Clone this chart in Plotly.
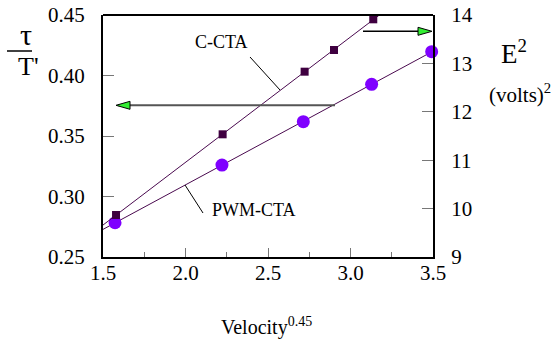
import numpy as np
import plotly.graph_objects as go

# Data
cta_x = [1.579, 2.225, 2.722, 2.900, 3.138]
cta_e2 = [9.868, 11.535, 12.829, 13.277, 13.911]          # right axis, E^2 (volts)^2
pwm_x = [1.573, 2.221, 2.714, 3.128, 3.492]
pwm_tau = [0.2783, 0.3260, 0.3618, 0.3927, 0.4197]        # left axis, tau/T'

x_ticks = [1.5, 2.0, 2.5, 3.0, 3.5]
x_ticklabels = ["1.5", "2.0", "2.5", "3.0", "3.5"]
left_ticks = [0.25, 0.30, 0.35, 0.40, 0.45]
left_ticklabels = ["0.25", "0.30", "0.35", "0.40", "0.45"]
right_ticks = [9, 10, 11, 12, 13, 14]
right_ticklabels = ["9", "10", "11", "12", "13", "14"]

XR = [1.5, 3.5]
LINE_COL = "#4a0a4f"
SQ_COL = "#3f0040"
CIRC_COL = "#7f00ff"
FONT = "Liberation Serif, Tinos, Times New Roman, serif"

# least-squares fit lines across the axis range
fx = np.array(XR)
c_fit = np.polyfit(cta_x, cta_e2, 1)
p_fit = np.polyfit(pwm_x, pwm_tau, 1)

fig = go.Figure()
fig.add_trace(go.Scatter(x=fx, y=np.polyval(p_fit, fx), mode="lines",
                         line=dict(color=LINE_COL, width=1), yaxis="y", showlegend=False))
fig.add_trace(go.Scatter(x=fx, y=np.polyval(c_fit, fx), mode="lines",
                         line=dict(color=LINE_COL, width=1), yaxis="y2", showlegend=False))
fig.add_trace(go.Scatter(x=pwm_x, y=pwm_tau, mode="markers", yaxis="y",
                         marker=dict(symbol="circle", size=13, color=CIRC_COL),
                         cliponaxis=False, showlegend=False))
fig.add_trace(go.Scatter(x=cta_x, y=cta_e2, mode="markers", yaxis="y2",
                         marker=dict(symbol="square", size=8, color=SQ_COL),
                         cliponaxis=False, showlegend=False))

axis_common = dict(showgrid=False, zeroline=False, showline=True, linecolor="black",
                   linewidth=2, ticks="inside", tickcolor="#777777", tickwidth=1,
                   automargin=False,
                   tickfont=dict(family=FONT, size=21, color="black"))

fig.update_layout(
    width=556, height=346,
    margin=dict(l=103, r=123, t=15, b=89, autoexpand=False),
    paper_bgcolor="white", plot_bgcolor="white",
    font=dict(family=FONT, color="black"),
    xaxis=dict(range=XR, tickvals=x_ticks, ticktext=x_ticklabels, ticklen=9,
               ticklabelstandoff=-4,
               minor=dict(ticks="inside", ticklen=5, tickcolor="#777777", dtick=0.25, tick0=1.5),
               mirror=False, **axis_common),
    yaxis=dict(range=[0.25, 0.45], tickvals=left_ticks, ticktext=left_ticklabels,
               ticklen=11, ticklabelstandoff=12, **axis_common),
    yaxis2=dict(range=[9, 14], tickvals=right_ticks, ticktext=right_ticklabels,
                ticklen=11, ticklabelstandoff=12, overlaying="y", side="right", **axis_common),
)

# top border line
fig.add_shape(type="line", xref="paper", yref="paper", x0=0, x1=1, y0=1, y1=1,
              line=dict(color="black", width=2))

def px(xp):
    return (xp - 103) / 330.0

def py(yp):
    return (257 - yp) / 242.0

# Arrows
fig.add_shape(type="line", xref="paper", yref="paper", x0=px(118), x1=px(335),
              y0=py(105.3), y1=py(105.3), line=dict(color="#555555", width=2))
fig.add_shape(type="path", xref="paper", yref="paper", xsizemode="pixel", ysizemode="pixel",
              xanchor=px(116), yanchor=py(105.3), path="M 0 0 L 14 4 L 14 -4 Z",
              fillcolor="#33ee33", line=dict(color="black", width=1))
fig.add_shape(type="line", xref="paper", yref="paper", x0=px(363), x1=px(420),
              y0=py(31.3), y1=py(31.3), line=dict(color="black", width=1.5))
fig.add_shape(type="path", xref="paper", yref="paper", xsizemode="pixel", ysizemode="pixel",
              xanchor=px(432), yanchor=py(31.3), path="M 0 0 L -14 4 L -14 -4 Z",
              fillcolor="#33ee33", line=dict(color="black", width=1))

# leader lines
fig.add_shape(type="line", xref="paper", yref="paper", x0=px(250), x1=px(280),
              y0=py(57), y1=py(90), line=dict(color="black", width=1))
fig.add_shape(type="line", xref="paper", yref="paper", x0=px(185), x1=px(203),
              y0=py(185), y1=py(213), line=dict(color="black", width=1))

# fraction bar
fig.add_shape(type="line", xref="paper", yref="paper", x0=px(7), x1=px(32),
              y0=py(51), y1=py(51), line=dict(color="black", width=1.5))

def ann(text, x, y, size, **kw):
    fig.add_annotation(text=text, xref="paper", yref="paper", x=px(x), y=py(y),
                       showarrow=False, font=dict(family=FONT, size=size, color="black"),
                       xanchor="center", yanchor="middle", **kw)

ann("C-CTA", 221, 42, 18)
ann("PWM-CTA", 254, 210, 18)
ann("τ", 26, 35, 30)
ann("T'", 28, 66, 26)
ann("E<sup>2</sup>", 514, 52, 27)
ann("(volts)<sup>2</sup>", 520, 93, 21)
ann("Velocity<sup>0.45</sup>", 266, 326, 20)

fig.write_html("out.html")
